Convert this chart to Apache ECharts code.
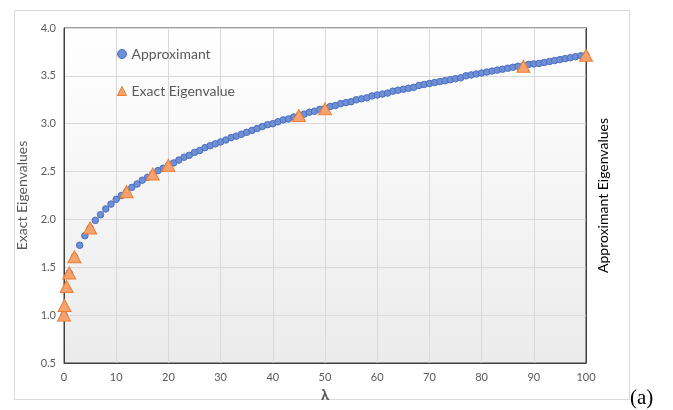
<!DOCTYPE html>
<html>
<head>
<meta charset="utf-8">
<script src="https://cdn.jsdelivr.net/npm/echarts@6/dist/echarts.min.js"></script>
<style>
html,body{margin:0;padding:0;background:#fff;}
#chart{width:673px;height:410px;}
</style>
</head>
<body>
<div id="chart"></div>
<script>
// Approximant values at lambda = 0,1,...,100
const approxLambda = [
  0,1,2,3,4,5,6,7,8,9,10,11,12,13,14,15,16,17,18,19,20,
  21,22,23,24,25,26,27,28,29,30,31,32,33,34,35,36,37,38,39,40,
  41,42,43,44,45,46,47,48,49,50,51,52,53,54,55,56,57,58,59,60,
  61,62,63,64,65,66,67,68,69,70,71,72,73,74,75,76,77,78,79,80,
  81,82,83,84,85,86,87,88,89,90,91,92,93,94,95,96,97,98,99,100
];
const approxValues = [
  1.00,1.44,1.61,1.73,1.83,1.91,1.99,2.05,2.11,2.16,2.21,2.25,2.29,2.335,2.37,2.41,2.44,2.475,2.51,2.535,2.565,
  2.59,2.62,2.65,2.67,2.70,2.72,2.75,2.77,2.79,2.81,2.83,2.855,2.87,2.89,2.91,2.93,2.95,2.97,2.99,3.00,
  3.02,3.04,3.05,3.07,3.085,3.10,3.12,3.13,3.15,3.16,3.18,3.19,3.21,3.22,3.23,3.25,3.26,3.27,3.29,3.30,
  3.31,3.32,3.34,3.35,3.36,3.37,3.38,3.40,3.41,3.42,3.43,3.44,3.45,3.46,3.47,3.48,3.50,3.51,3.52,3.53,
  3.54,3.55,3.56,3.57,3.58,3.59,3.60,3.605,3.62,3.625,3.63,3.64,3.65,3.66,3.67,3.68,3.69,3.70,3.71,3.715
];
// Exact eigenvalues
const exactLambda = [0, 0.1, 0.5, 1, 2, 5, 12, 17, 20, 45, 50, 88, 100];
const exactValues = [1.00, 1.10, 1.30, 1.44, 1.61, 1.91, 2.29, 2.475, 2.565, 3.085, 3.155, 3.60, 3.715];

const xTicks = [0,10,20,30,40,50,60,70,80,90,100];
const yTicks = [0.5,1.0,1.5,2.0,2.5,3.0,3.5,4.0];

const seriesNames = ['Approximant', 'Exact Eigenvalue'];
const xAxisTitle = 'λ';
const yLeftTitle = 'Exact Eigenvalues';
const yRightTitle = 'Approximant Eigenvalues';
const panelLabel = '(a)';

const approxData = approxLambda.map((l, i) => [l, approxValues[i]]);
const exactData = exactLambda.map((l, i) => [l, exactValues[i]]);

const FONT = 'Lato, "Open Sans", sans-serif';
const chart = echarts.init(document.getElementById('chart'), null, {renderer: 'canvas'});
chart.setOption({
  animation: false,
  backgroundColor: '#ffffff',
  textStyle: {fontFamily: FONT},
  grid: {
    left: 64, top: 28, right: 87, bottom: 47,
    show: true,
    borderColor: '#404040',
    borderWidth: 1,
    backgroundColor: {
      type: 'linear', x: 0, y: 0, x2: 0, y2: 1,
      colorStops: [{offset: 0, color: '#ffffff'}, {offset: 1, color: '#ebebeb'}]
    }
  },
  legend: {
    orient: 'vertical',
    left: 112, top: 42,
    itemGap: 23,
    itemWidth: 9, itemHeight: 9,
    textStyle: {fontFamily: FONT, fontSize: 14, color: '#595959'},
    data: [
      {name: seriesNames[0], icon: 'circle', itemStyle: {color: '#6f8fd6', borderColor: '#4a6fbf', borderWidth: 1}},
      {name: seriesNames[1], icon: 'triangle', itemStyle: {color: '#f5a26e', borderColor: '#ed7d31', borderWidth: 1}}
    ]
  },
  xAxis: {
    type: 'value', min: 0, max: 100, interval: 10,
    name: xAxisTitle, nameLocation: 'middle', nameGap: 20,
    nameTextStyle: {fontFamily: FONT, fontSize: 15, fontWeight: 'bold', color: '#595959'},
    axisLine: {show: true, lineStyle: {color: '#404040', width: 1}},
    axisTick: {show: false},
    axisLabel: {fontFamily: FONT, fontSize: 11, color: '#595959', margin: 9,
      formatter: v => xTicks.includes(v) ? String(v) : ''},
    splitLine: {show: true, lineStyle: {color: '#d9d9d9', width: 1}}
  },
  yAxis: [{
    type: 'value', min: 0.5, max: 4.0, interval: 0.5, position: 'left',
    name: yLeftTitle, nameLocation: 'middle', nameGap: 28, nameRotate: 90,
    nameTextStyle: {fontFamily: FONT, fontSize: 14, color: '#595959'},
    axisLine: {show: true, lineStyle: {color: '#404040', width: 1}},
    axisTick: {show: false},
    axisLabel: {fontFamily: FONT, fontSize: 11, color: '#595959', margin: 8,
      formatter: v => yTicks.some(t => Math.abs(t - v) < 1e-9) ? v.toFixed(1) : ''},
    splitLine: {show: true, lineStyle: {color: '#d9d9d9', width: 1}}
  }, {
    type: 'value', min: 0.5, max: 4.0, interval: 0.5, position: 'right',
    name: yRightTitle, nameLocation: 'middle', nameGap: 10, nameRotate: 90,
    nameTextStyle: {fontFamily: FONT, fontSize: 14, color: '#000000'},
    axisLine: {show: true, lineStyle: {color: '#404040', width: 1}},
    axisTick: {show: false},
    axisLabel: {show: false},
    splitLine: {show: false}
  }],
  series: [{
    name: seriesNames[0], type: 'scatter', yAxisIndex: 0,
    symbol: 'circle', symbolSize: 6.5,
    itemStyle: {color: '#6f8fd6', borderColor: '#4a6fbf', borderWidth: 1, opacity: 1},
    data: approxData, z: 2
  }, {
    name: seriesNames[1], type: 'scatter', yAxisIndex: 0,
    symbol: 'triangle', symbolSize: [13, 12],
    itemStyle: {color: '#f5a26e', borderColor: '#ed7d31', borderWidth: 1, opacity: 1},
    data: exactData, z: 3
  }],
  graphic: [{
    type: 'rect', z: -1, silent: true,
    shape: {x: 14.5, y: 10.5, width: 615, height: 389},
    style: {fill: 'none', stroke: '#d9d9d9', lineWidth: 1}
  }, {
    type: 'text', left: 630, top: 388, z: 10,
    style: {text: panelLabel, font: '21px "Liberation Serif", "DejaVu Serif", serif', fill: '#000'}
  }]
});
</script>
</body>
</html>
